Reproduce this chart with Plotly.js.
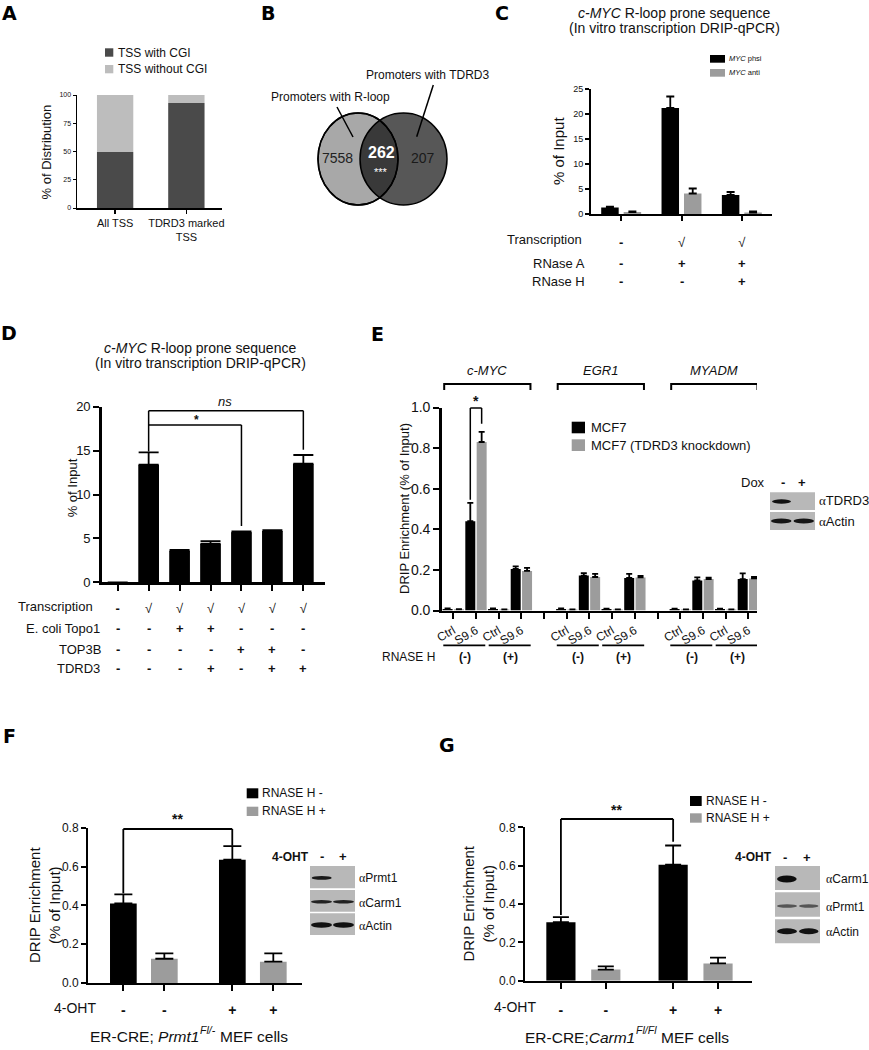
<!DOCTYPE html>
<html><head><meta charset="utf-8">
<script src="https://cdn.plot.ly/plotly-3.0.1.min.js"></script>
<style>html,body{margin:0;padding:0;background:#fff}</style>
</head><body><div id="chart" style="width:869px;height:1050px"></div>
<script>
// ---------------- DATA ----------------
// Panel A
const aCats = ['All TSS', 'TDRD3 marked<br>TSS'];
const aWithCGI = [49.5, 93];
const aWithoutCGI = [50.5, 7];
// Panel B (Venn counts)
const bRloopOnly = '7558';
const bOverlap = '262';
const bTdrd3Only = '207';
// Panel C
const cPhsi = [1.3, 21.2, 3.8];
const cPhsiErr = [0.15, 2.3, 0.6];
const cAnti = [0.4, 4.1, 0.3];
const cAntiErr = [0.1, 1.0, 0.2];
const cTranscription = ['-', '√', '√'];
const cRNaseA = ['-', '+', '+'];
const cRNaseH = ['-', '-', '+'];
// Panel D
const dValues = [0, 13.4, 3.6, 4.4, 5.7, 5.85, 13.5];
const dErr = [null, 1.4, 0.08, 0.3, 0.1, 0.08, 1.0];
const dTranscription = ['-', '√', '√', '√', '√', '√', '√'];
const dTopo1 = ['-', '-', '+', '+', '-', '-', '-'];
const dTop3b = ['-', '-', '-', '-', '+', '+', '-'];
const dTdrd3 = ['-', '-', '-', '+', '-', '+', '+'];
// Panel E
const eLabels = ['Ctrl','S9.6','Ctrl','S9.6','','Ctrl','S9.6','Ctrl','S9.6','','Ctrl','S9.6','Ctrl','S9.6'];
const eMCF7 =    [0.008,0.44,0.008,0.205,null,0.008,0.172,0.007,0.16,null,0.007,0.148,0.007,0.155];
const eMCF7Err = [0.002,0.09,0.002,0.012,null,0.002,0.012,0.002,0.02,null,0.002,0.015,0.002,0.028];
const eKD =      [0.006,0.83,0.005,0.195,null,0.005,0.165,0.005,0.163,null,0.005,0.155,0.005,0.158];
const eKDErr =   [0.001,0.05,0.001,0.015,null,0.001,0.015,0.001,0.007,null,0.001,0.007,0.001,0.007];
const eGenes = ['c-MYC', 'EGR1', 'MYADM'];
const eRnaseH = ['(-)', '(+)', '(-)', '(+)', '(-)', '(+)'];
// Panel F
const fOHT = ['-', '+'];
const fRnaseMinus = [0.41, 0.635];
const fRnaseMinusErr = [0.047, 0.07];
const fRnasePlus = [0.125, 0.11];
const fRnasePlusErr = [0.028, 0.043];
// Panel G
const gOHT = ['-', '+'];
const gRnaseMinus = [0.305, 0.605];
const gRnaseMinusErr = [0.027, 0.1];
const gRnasePlus = [0.058, 0.09];
const gRnasePlusErr = [0.017, 0.03];

// ---------------- LAYOUT HELPERS ----------------
const W = 869, H = 1050;
const X = p => p / W, Y = p => 1 - p / H;
const FONT = '"Liberation Sans", Arial, sans-serif';
const INK = '#111';
const GRAY = '#9c9c9c', DARK = '#4a4a4a', LIGHT = '#bdbdbd', BLOT = '#b8b8b8';
const SERIF_A = '<span style="font-family:Liberation Serif">α</span>';
const sym = s => (s === '√' ? s : '<b>' + s + '</b>');

const box = {
  A: {l: 77, r: 222, t: 95, b: 208},
  C: {l: 591, r: 772, t: 89, b: 214},
  D: {l: 101.7, r: 325, t: 406.7, b: 582.3},
  E: {l: 441.7, r: 757, t: 407.5, b: 610.5},
  F: {l: 88, r: 301.7, t: 827.7, b: 983},
  G: {l: 525, r: 751.7, t: 827.3, b: 980.7}
};
const yMax = {A: 100, C: 25, D: 20, E: 1.0, F: 0.8, G: 0.8};
function yv(p, v) { const b = box[p]; return Y(b.b - (b.b - b.t) * v / yMax[p]); }
const xd = p => [X(box[p].l), X(box[p].r)];
const ydm = p => [Y(box[p].b), Y(box[p].t)];

const ann = [], shp = [];
function txt(text, x, y, size, o) {
  ann.push(Object.assign({text, x: X(x), y: Y(y), xref: 'paper', yref: 'paper', showarrow: false,
    xanchor: 'center', yanchor: 'middle', font: {family: FONT, size: size || 13, color: INK}}, o || {}));
}
function dtxt(text, xref, xv, y, size, o) {
  ann.push(Object.assign({text, x: xv, y: Y(y), xref: xref, yref: 'paper', showarrow: false,
    xanchor: 'center', yanchor: 'middle', font: {family: FONT, size: size || 13, color: INK}}, o || {}));
}
function pline(x0, y0, x1, y1, w) {
  shp.push({type: 'line', xref: 'paper', yref: 'paper', x0: X(x0), y0: Y(y0), x1: X(x1), y1: Y(y1), line: {color: '#000', width: w || 1.5}});
}
function dline(xref, x0, y0, x1, y1, w) { // x in data units, y in paper fraction
  shp.push({type: 'line', xref: xref, yref: 'paper', x0, y0, x1, y1, line: {color: '#000', width: w || 1.5}});
}
function prect(x0, y0, x1, y1, fill) {
  shp.push({type: 'rect', xref: 'paper', yref: 'paper', x0: X(x0), y0: Y(y1), x1: X(x1), y1: Y(y0), fillcolor: fill, line: {width: 0}});
}
function pell(x0, y0, x1, y1, fill, lw) {
  shp.push({type: 'circle', xref: 'paper', yref: 'paper', x0: X(x0), y0: Y(y1), x1: X(x1), y1: Y(y0), fillcolor: fill,
    line: lw ? {color: '#000', width: lw} : {width: 0}});
}
const eb = (arr, w) => ({type: 'data', symmetric: false, array: arr, arrayminus: arr.map(v => v == null ? null : 0),
  color: '#000', thickness: 1.8, width: w, visible: true});

function ax(o) {
  return Object.assign({showgrid: false, zeroline: false, showline: true, linecolor: '#000', ticks: 'outside',
    tickcolor: '#000', fixedrange: true, tickfont: {family: FONT, size: 11, color: INK}}, o);
}

// text measuring (for a caption with a superscript drawn as separate pieces)
const mctx = document.createElement('canvas').getContext('2d');
function mw(s, size, italic) { mctx.font = (italic ? 'italic ' : '') + size + 'px "Liberation Sans"'; return mctx.measureText(s).width; }
function supCaption(pre, gene, sup, post, cx, cy, size) {
  const supSize = size * 0.68;
  const w1 = mw(pre, size) + mw(gene, size, true);
  const w2 = mw(sup, supSize, true);
  const ws = mw(' ', size);
  const w3 = mw(post, size);
  const start = cx - (w1 + w2 + ws + w3) / 2;
  txt(pre.trim() + (pre.endsWith(' ') ? ' ' : '') + '<i>' + gene + '</i>', start, cy, size, {xanchor: 'left'});
  txt('<i>' + sup + '</i>', start + w1 + 0.5, cy - size * 0.42, supSize, {xanchor: 'left'});
  txt(post, start + w1 + w2 + ws + 0.5, cy, size, {xanchor: 'left'});
}

// ---------------- TRACES ----------------
const traces = [];
// A
traces.push({type: 'bar', x: aCats, y: aWithCGI, xaxis: 'x', yaxis: 'y', width: 0.51, marker: {color: DARK}, hoverinfo: 'skip'});
traces.push({type: 'bar', x: aCats, y: aWithoutCGI, base: aWithCGI, xaxis: 'x', yaxis: 'y', width: 0.51, marker: {color: LIGHT}, hoverinfo: 'skip'});
// C
const cIdx = cPhsi.map((_, i) => i);
traces.push({type: 'bar', x: cIdx, y: cPhsi, xaxis: 'x2', yaxis: 'y2', width: 0.29, offset: -0.331, marker: {color: '#000'}, error_y: eb(cPhsiErr, 4)});
traces.push({type: 'bar', x: cIdx, y: cAnti, xaxis: 'x2', yaxis: 'y2', width: 0.29, offset: 0.041, marker: {color: GRAY}, error_y: eb(cAntiErr, 4)});
// D
const dIdx = dValues.map((_, i) => i);
traces.push({type: 'bar', x: dIdx, y: dValues, xaxis: 'x3', yaxis: 'y3', width: 0.67, marker: {color: '#000'}, error_y: eb(dErr, 10)});
// E
const eIdx = eLabels.map((_, i) => i);
const eMajor = eIdx.filter(i => eLabels[i] !== '');
const eGap = eIdx.filter(i => eLabels[i] === '');
traces.push({type: 'bar', x: eIdx, y: eMCF7, xaxis: 'x4', yaxis: 'y4', width: 0.44, offset: -0.47, marker: {color: '#000'}, error_y: eb(eMCF7Err, 3)});
traces.push({type: 'bar', x: eIdx, y: eKD, xaxis: 'x4', yaxis: 'y4', width: 0.44, offset: 0.03, marker: {color: GRAY}, error_y: eb(eKDErr, 3)});
// F
const fIdx = fOHT.map((_, i) => i);
traces.push({type: 'bar', x: fIdx, y: fRnaseMinus, xaxis: 'x5', yaxis: 'y5', width: 0.245, offset: -0.31, marker: {color: '#000'}, error_y: eb(fRnaseMinusErr, 9)});
traces.push({type: 'bar', x: fIdx, y: fRnasePlus, xaxis: 'x5', yaxis: 'y5', width: 0.245, offset: 0.066, marker: {color: GRAY}, error_y: eb(fRnasePlusErr, 9)});
// G
const gIdx = gOHT.map((_, i) => i);
traces.push({type: 'bar', x: gIdx, y: gRnaseMinus, xaxis: 'x6', yaxis: 'y6', width: 0.26, offset: -0.33, marker: {color: '#000'}, error_y: eb(gRnaseMinusErr, 8)});
traces.push({type: 'bar', x: gIdx, y: gRnasePlus, xaxis: 'x6', yaxis: 'y6', width: 0.26, offset: 0.07, marker: {color: GRAY}, error_y: eb(gRnasePlusErr, 8)});

const fTicks = fIdx.flatMap(i => [i - 0.188, i + 0.188]);
const gTicks = gIdx.flatMap(i => [i - 0.2, i + 0.2]);
const fTickText = fTicks.map((_, k) => sym(fOHT[Math.floor(k / 2)]));
const gTickText = gTicks.map((_, k) => sym(gOHT[Math.floor(k / 2)]));

// ---------------- ANNOTATIONS / SHAPES ----------------
// Panel letters
[['A', 9, 13], ['B', 268, 13], ['C', 502, 13], ['D', 9, 333], ['E', 377, 334], ['F', 9, 736], ['G', 447, 745]]
  .forEach(([t, x, y]) => txt('<b>' + t + '</b>', x, y, 19, {font: {family: '"DejaVu Sans", sans-serif', size: 19, color: '#000'}}));

// A
prect(105, 48.3, 113.3, 56.7, DARK);
prect(105, 65, 113.3, 73.3, LIGHT);
txt('TSS with CGI', 115.5, 52.5, 12, {xanchor: 'left'});
txt('TSS without CGI', 115.5, 69.2, 12, {xanchor: 'left'});
txt('% of Distribution', 46.7, 151.7, 13, {textangle: -90});

// B Venn
pell(318, 113, 398, 205, '#a8a8a8', 1.5);
pell(360, 113, 447, 205, 'rgba(0,0,0,0.66)', 1.5);
pell(318, 113, 398, 205, 'rgba(0,0,0,0)', 1.5);
txt(bRloopOnly, 337, 158, 14, {font: {family: FONT, size: 14, color: '#222'}});
txt('<b>' + bOverlap + '</b>', 381, 152, 16, {font: {family: FONT, size: 16, color: '#fff'}});
txt('***', 381, 172, 11, {font: {family: FONT, size: 11, color: '#fff'}});
txt(bTdrd3Only, 423, 158, 14, {font: {family: FONT, size: 14, color: '#1a1a1a'}});
txt('Promoters with R-loop', 330, 97, 12);
txt('Promoters with TDRD3', 427, 75, 12);
pline(337, 107, 353, 137, 1.5);
pline(433.3, 85, 416.7, 136.7, 1.5);

// C
txt('<i>c-MYC</i> R-loop prone sequence', 674, 13.3, 14);
txt('(In vitro transcription DRIP-qPCR)', 674, 28.3, 14);
prect(710, 55, 725, 62.7, '#000');
prect(710, 69, 725, 76.7, GRAY);
txt('<i>MYC</i> phsi', 727, 58.8, 7.5, {xanchor: 'left'});
txt('<i>MYC</i> anti', 727, 72.8, 7.5, {xanchor: 'left'});
txt('% of Input', 558.3, 150.7, 15, {textangle: -90});
txt('Transcription', 584, 240, 13, {xanchor: 'right'});
txt('RNase A', 587, 263, 13, {xanchor: 'right'});
txt('RNase H', 587, 281, 13, {xanchor: 'right'});
[[cRNaseA, 263], [cRNaseH, 281]].forEach(([row, y]) =>
  row.forEach((s, i) => dtxt(sym(s), 'x2', i, y, 13)));

// D
txt('<i>c-MYC</i> R-loop prone sequence', 200, 348, 14);
txt('(In vitro transcription DRIP-qPCR)', 200, 363, 14);
txt('% of Input', 72, 488.3, 13, {textangle: -90});
txt('Transcription', 95, 606.7, 13, {xanchor: 'right'});
txt('E. coli Topo1', 102, 628.3, 13, {xanchor: 'right'});
txt('TOP3B', 103, 649.3, 13, {xanchor: 'right'});
txt('TDRD3', 102, 668.3, 13, {xanchor: 'right'});
[[dTopo1, 628.3], [dTop3b, 649.3], [dTdrd3, 668.3]].forEach(([row, y]) =>
  row.forEach((s, i) => dtxt(sym(s), 'x3', i, y, 13)));
const dNsY = Y(410.7), dStarY = Y(425);
dline('x3', 1, yv('D', dValues[1] + dErr[1] + 0.1), 1, dNsY);
dline('x3', 1, dNsY, 6, dNsY);
dline('x3', 6, dNsY, 6, yv('D', dValues[6] + dErr[6] + 0.6));
dline('x3', 1, dStarY, 4, dStarY);
dline('x3', 4, dStarY, 4, yv('D', dValues[4] + dErr[4] + 0.6));
dtxt('<i>ns</i>', 'x3', 3.47, 401.7, 13);
dtxt('<b>*</b>', 'x3', 2.55, 419.5, 12);

// E
txt('DRIP Enrichment (% of Input)', 405, 509, 13, {textangle: -90});
eGenes.forEach((g, k) => {
  const s = 5 * k;
  shp.push({type: 'path', xref: 'x4', yref: 'paper',
    path: `M ${s - 0.4},${Y(390)} L ${s - 0.4},${Y(384)} L ${s + 3.4},${Y(384)} L ${s + 3.4},${Y(390)}`,
    line: {color: '#000', width: 2}});
  dtxt('<i>' + g + '</i>', 'x4', s + 1.5, 370, 13);
});
const eStarTop = Y(408);
dline('x4', 0.75, yv('E', eMCF7[1] + eMCF7Err[1] + 0.015), 0.75, eStarTop, 1.5);
dline('x4', 0.75, eStarTop, 1.25, eStarTop, 1.5);
dline('x4', 1.25, eStarTop, 1.25, yv('E', eKD[1] + eKDErr[1] + 0.04), 1.5);
dtxt('<b>*</b>', 'x4', 1.0, 401, 14);
prect(571.7, 421.7, 585, 433.3, '#000');
prect(571.7, 439.3, 585, 451, GRAY);
txt('MCF7', 589, 427.5, 13, {xanchor: 'left'});
txt('MCF7 (TDRD3 knockdown)', 589, 445.2, 13, {xanchor: 'left'});
txt('RNASE H', 437, 657, 12, {xanchor: 'right'});
const ePairs = [0, 2, 5, 7, 10, 12];
ePairs.forEach((p, k) => {
  dline('x4', p - 0.44, Y(645.3), p + 1.41, Y(645.3), 1.8);
  dtxt('<b>' + eRnaseH[k] + '</b>', 'x4', p + 0.5, 657, 12);
});
// E blot
txt('Dox', 753.3, 482.3, 13);
txt('<b>-</b>', 783.3, 482.3, 13);
txt('<b>+</b>', 802.3, 482.3, 13);
prect(770, 492.3, 815, 510, BLOT);
prect(770, 512, 815, 530, BLOT);
pell(772, 499.3, 791, 503.7, '#111');
pell(771, 518.5, 791.5, 523.5, '#151515');
pell(793.5, 518.5, 814, 523.5, '#151515');
txt(SERIF_A + 'TDRD3', 817, 501, 13, {xanchor: 'left'});
txt(SERIF_A + 'Actin', 817, 521, 13, {xanchor: 'left'});

// F
prect(246.7, 788.3, 258.3, 798.3, '#000');
prect(246.7, 806.7, 258.3, 816, GRAY);
txt('RNASE H -', 260, 793.3, 12, {xanchor: 'left'});
txt('RNASE H +', 260, 811.3, 12, {xanchor: 'left'});
txt('DRIP Enrichment<br>(% of Input)', 44, 905, 15, {textangle: -90});
const fTop = Y(829);
dline('x5', fTicks[0], yv('F', fRnaseMinus[0] + fRnaseMinusErr[0] + 0.005), fTicks[0], fTop, 1.8);
dline('x5', fTicks[0], fTop, fTicks[2], fTop, 1.8);
dline('x5', fTicks[2], fTop, fTicks[2], yv('F', fRnaseMinus[1] + fRnaseMinusErr[1] + 0.002), 1.8);
txt('<b>**</b>', 177.7, 819.3, 14);
txt('4-OHT', 98, 1007.7, 14, {xanchor: 'right'});
supCaption('ER-CRE; ', 'Prmt1', 'Fl/-', 'MEF cells', 186.7, 1036.7, 15.5);
// F blot
txt('<b>4-OHT</b>', 290, 856.7, 12);
txt('<b>-</b>', 321.7, 856.7, 13);
txt('<b>+</b>', 343.3, 856.7, 13);
prect(310, 866, 355, 888.3, BLOT);
prect(310, 890, 355, 911.7, BLOT);
prect(310, 913.3, 355, 935, BLOT);
pell(311.7, 876, 331.7, 879.8, '#1a1a1a');
pell(311, 900, 332, 903.6, '#222');
pell(333, 900, 354, 903.6, '#222');
pell(311, 922.3, 332, 927.7, '#111');
pell(333, 922.3, 354, 927.7, '#111');
txt(SERIF_A + 'Prmt1', 357, 878.3, 12, {xanchor: 'left'});
txt(SERIF_A + 'Carm1', 357, 902.7, 12, {xanchor: 'left'});
txt(SERIF_A + 'Actin', 357, 925.7, 12, {xanchor: 'left'});

// G
prect(690, 796, 701.7, 806, '#000');
prect(690, 813.3, 701.7, 822.7, GRAY);
txt('RNASE H -', 703.5, 801, 12, {xanchor: 'left'});
txt('RNASE H +', 703.5, 818, 12, {xanchor: 'left'});
txt('DRIP Enrichment<br>(% of Input)', 478.3, 903.3, 15, {textangle: -90});
const gTop = Y(819);
dline('x6', gTicks[0], yv('G', gRnaseMinus[0] + gRnaseMinusErr[0] + 0.01), gTicks[0], gTop, 1.8);
dline('x6', gTicks[0], gTop, gTicks[2], gTop, 1.8);
dline('x6', gTicks[2], gTop, gTicks[2], yv('G', gRnaseMinus[1] + gRnaseMinusErr[1] + 0.02), 1.8);
txt('<b>**</b>', 616.7, 810, 14);
txt('4-OHT', 538.3, 1007.3, 14, {xanchor: 'right'});
supCaption('ER-CRE;', 'Carm1', 'Fl/Fl', 'MEF cells', 625, 1037, 15.5);
// G blot
txt('<b>4-OHT</b>', 753.3, 857.3, 12);
txt('<b>-</b>', 785, 857.3, 13);
txt('<b>+</b>', 806.7, 857.3, 13);
prect(775, 866, 820, 890, BLOT);
prect(775, 892.3, 820, 916.7, BLOT);
prect(775, 919.3, 820, 943.3, BLOT);
pell(777, 875.5, 796.7, 882.5, '#0d0d0d');
pell(777, 904.3, 797, 907.7, '#555');
pell(799, 904.3, 818.5, 907.7, '#555');
pell(777, 928.3, 797, 934.2, '#111');
pell(799, 928.3, 818.5, 934.2, '#111');
txt(SERIF_A + 'Carm1', 824, 879.3, 12, {xanchor: 'left'});
txt(SERIF_A + 'Prmt1', 824, 907.3, 12, {xanchor: 'left'});
txt(SERIF_A + 'Actin', 824, 931.7, 12, {xanchor: 'left'});

// ---------------- AXES ----------------
const layout = {
  width: W, height: H, margin: {l: 0, r: 0, t: 0, b: 0}, showlegend: false, barmode: 'overlay',
  paper_bgcolor: '#fff', plot_bgcolor: 'rgba(0,0,0,0)', font: {family: FONT, color: INK},
  xaxis: ax({domain: xd('A'), anchor: 'y', type: 'category', range: [-0.535, 1.5], linewidth: 1.5, ticklen: 4, tickwidth: 1.5,
    tickfont: {family: FONT, size: 11, color: INK}}),
  yaxis: ax({domain: ydm('A'), anchor: 'x', range: [0, 100], tickvals: [0, 25, 50, 75, 100], linewidth: 1.5, ticklen: 3, tickwidth: 1,
    tickfont: {family: FONT, size: 7, color: INK}}),
  xaxis2: ax({domain: xd('C'), anchor: 'y2', range: [-0.5, 2.5], tickvals: cIdx, ticktext: cTranscription.map(sym),
    ticklabelstandoff: 10, linewidth: 2, ticklen: 5, tickwidth: 2, tickfont: {family: FONT, size: 13, color: INK}}),
  yaxis2: ax({domain: ydm('C'), anchor: 'x2', range: [0, 25], dtick: 5, linewidth: 2, ticklen: 4, tickwidth: 1.5,
    tickfont: {family: FONT, size: 9, color: INK}}),
  xaxis3: ax({domain: xd('D'), anchor: 'y3', range: [-0.517, 6.7], tickvals: dIdx, ticktext: dTranscription.map(sym),
    ticklabelstandoff: 7, linewidth: 2.5, ticklen: 6, tickwidth: 2, tickfont: {family: FONT, size: 13, color: INK}}),
  yaxis3: ax({domain: ydm('D'), anchor: 'x3', range: [0, 20], dtick: 5, linewidth: 2.5, ticklen: 6, tickwidth: 2,
    tickfont: {family: FONT, size: 13, color: INK}}),
  xaxis4: ax({domain: xd('E'), anchor: 'y4', range: [-0.51, 13.38], tickvals: eMajor, ticktext: eMajor.map(i => eLabels[i]), tickangle: -30,
    linewidth: 2.5, ticklen: 6, tickwidth: 2, tickfont: {family: FONT, size: 12, color: INK},
    minor: {tickmode: 'array', tickvals: eGap, ticks: 'outside', ticklen: 6, tickwidth: 2, tickcolor: '#000', showgrid: false}}),
  yaxis4: ax({domain: ydm('E'), anchor: 'x4', range: [0, 1], dtick: 0.2, tickformat: '.1f', linewidth: 2.5, ticklen: 6, tickwidth: 2,
    tickfont: {family: FONT, size: 14, color: INK}}),
  xaxis5: ax({domain: xd('F'), anchor: 'y5', range: [-0.512, 1.449], tickvals: fTicks, ticktext: fTickText,
    ticklabelstandoff: 7, linewidth: 2, ticklen: 6, tickwidth: 2, tickfont: {family: FONT, size: 14, color: INK}}),
  yaxis5: ax({domain: ydm('F'), anchor: 'x5', range: [0, 0.8], dtick: 0.2, tickformat: '.1f', linewidth: 2, ticklen: 5, tickwidth: 2,
    tickfont: {family: FONT, size: 12, color: INK}}),
  xaxis6: ax({domain: xd('G'), anchor: 'y6', range: [-0.52, 1.5], tickvals: gTicks, ticktext: gTickText,
    ticklabelstandoff: 9, linewidth: 2, ticklen: 6, tickwidth: 2, tickfont: {family: FONT, size: 14, color: INK}}),
  yaxis6: ax({domain: ydm('G'), anchor: 'x6', range: [0, 0.8], dtick: 0.2, tickformat: '.1f', linewidth: 2, ticklen: 5, tickwidth: 2,
    tickfont: {family: FONT, size: 12, color: INK}}),
  annotations: ann,
  shapes: shp
};

Plotly.newPlot('chart', traces, layout, {staticPlot: true, displayModeBar: false});
</script></body></html>
